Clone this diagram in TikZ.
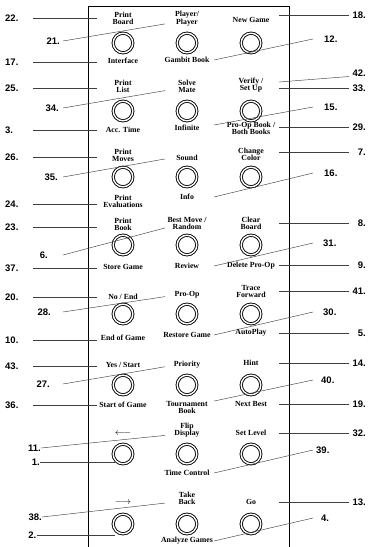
\documentclass[tikz,border=0pt]{standalone}
\usepackage{fontspec}
\setmainfont{Liberation Serif}
\newfontfamily\numfont{Liberation Sans}
\usetikzlibrary{calc}
\tikzset{
  btn/.style={circle,draw=black,line width=0.9pt,double,
    double distance=1.4pt,minimum size=19.6pt,inner sep=0pt},
  keylbl/.style={align=center,inner sep=0pt,
    font=\fontsize{7.8}{7.3}\selectfont\bfseries},
  callout/.style={inner sep=0pt,
    font=\numfont\fontsize{9.5}{9.5}\selectfont\bfseries},
  lead/.style={draw=black!75,line width=0.45pt},
  panel/.style={draw=black,line width=0.8pt},
}
\begin{document}
\begin{tikzpicture}[x=1pt,y=-1pt]
  \useasboundingbox (0,0) rectangle (372,547);

  % panel outline, open at the bottom
  \draw[panel] (88,547) -- (88,6) -- (289,6) -- (289,547);

  % keys
  \foreach \r/\y in {1/43,2/111,3/177,4/245,5/314,6/385,7/454,8/524}{
    \node[btn] (a\r) at (123,\y) {};
    \node[btn] (b\r) at (187,\y) {};
    \node[btn] (c\r) at (251,\y) {};
  }

  % key labels
  \node[keylbl] (a1t) at (123,18.5) {Print\\Board};
  \node[keylbl] (b1t) at (187,18.5) {Player/\\Player};
  \node[keylbl] (c1t) at (251,20)   {New Game};
  \node[keylbl] (a1b) at (123,61)   {Interface};
  \node[keylbl] (b1b) at (187,60)   {Gambit Book};

  \node[keylbl] (a2t) at (123,86)   {Print\\List};
  \node[keylbl] (b2t) at (187,86)   {Solve\\Mate};
  \node[keylbl] (c2t) at (251,85)   {Verify /\\Set Up};
  \node[keylbl] (a2b) at (123,130)  {Acc. Time};
  \node[keylbl] (b2b) at (187,128)  {Infinite};
  \node[keylbl] (c2b) at (251,128.5){Pro-Op Book /\\Both Books};

  \node[keylbl] (a3t) at (123,155.5){Print\\Moves};
  \node[keylbl] (b3t) at (187,158)  {Sound};
  \node[keylbl] (c3t) at (251,154.5){Change\\Color};
  \node[keylbl] (a3b) at (123,201.5){Print\\Evaluations};
  \node[keylbl] (b3b) at (187,197)  {Info};

  \node[keylbl] (a4t) at (123,224)  {Print\\Book};
  \node[keylbl] (b4t) at (187,223.5){Best Move /\\Random};
  \node[keylbl] (c4t) at (251,223)  {Clear\\Board};
  \node[keylbl] (a4b) at (123,267)  {Store Game};
  \node[keylbl] (b4b) at (187,266)  {Review};
  \node[keylbl] (c4b) at (251,266)  {Delete Pro-Op};

  \node[keylbl] (a5t) at (123,297)  {No / End};
  \node[keylbl] (b5t) at (187,295)  {Pro-Op};
  \node[keylbl] (c5t) at (251,291.5){Trace\\Forward};
  \node[keylbl] (a5b) at (123,338)  {End of Game};
  \node[keylbl] (b5b) at (187,335)  {Restore Game};
  \node[keylbl] (c5b) at (251,333)  {AutoPlay};

  \node[keylbl] (a6t) at (123,365)  {Yes / Start};
  \node[keylbl] (b6t) at (187,365)  {Priority};
  \node[keylbl] (c6t) at (251,363)  {Hint};
  \node[keylbl] (a6b) at (123,405)  {Start of Game};
  \node[keylbl] (b6b) at (187,407.5){Tournament\\Book};
  \node[keylbl] (c6b) at (251,404)  {Next Best};

  \node[keylbl,font=\fontsize{10}{10}\selectfont] (a7t) at (123,434) {$\longleftarrow$};
  \node[keylbl] (b7t) at (187,430)  {Flip\\Display};
  \node[keylbl] (c7t) at (251,433)  {Set Level};
  \node[keylbl] (b7b) at (187,473)  {Time Control};

  \node[keylbl,font=\fontsize{10}{10}\selectfont] (a8t) at (123,503) {$\longrightarrow$};
  \node[keylbl] (b8t) at (187,498.5){Take\\Back};
  \node[keylbl] (c8t) at (251,502)  {Go};
  \node[keylbl] (b8b) at (187,541)  {Analyze Games};

  % callout numbers
  \foreach \n/\y in {22/18,17/62,25/88,3/130,26/157,24/204,23/227,
                     37/268,20/297,10/340,43/366,36/405}
    \node[callout,anchor=west] (n\n) at (5,\y) {\n.};
  \foreach \n/\x/\y in {21/60/41,34/59/108,35/58/177,6/48/255,28/51/312,
                        27/50/384,11/41/448,1/40/462,38/42/517,2/36.5/535}
    \node[callout,anchor=east] (n\n) at (\x,\y) {\n.};
  \foreach \n/\y in {18/15,42/73,33/88,29/127,7/152,8/223,9/265,
                     41/291,5/333,14/363,19/404,32/433,13/502}
    \node[callout,anchor=east] (n\n) at (366,\y) {\n.};
  \foreach \n/\x/\y in {12/324/39,15/324/107,16/324/173,31/323/243,
                        30/323/312,40/321/380,39/316/450,4/321/518}
    \node[callout,anchor=west] (n\n) at (\x,\y) {\n.};

  % guide columns for the leader lines
  \coordinate (gl1) at (33,0);  \coordinate (gl2) at (97,0);
  \coordinate (gl3) at (63,0);  \coordinate (gl4) at (165,0);
  \coordinate (gb)  at (115,0);
  \coordinate (gr1) at (279,0); \coordinate (gr2) at (349,0);
  \coordinate (gr3) at (214,0); \coordinate (gr4) at (313,0);
  \coordinate (e42) at (279,82);

  % leader lines
  \foreach \n in {22,17,25,3,26,24,23,37,20,10,43,36}
    \draw[lead] (n\n -| gl1) -- (n\n -| gl2);
  \foreach \n/\tg in {21/b1t,34/b2t,35/b3t,6/b4t,28/b5t,27/b6t}
    \draw[lead] (n\n -| gl3) -- ($(gl4 |- \tg.south)+(0,-2)$);
  \draw[lead] (n11.east) -- ($(gl4 |- b7t.south)+(0,-2)$);
  \draw[lead] (n38.east) -- ($(gl4 |- b8t.south)+(0,-2)$);
  \draw[lead] (n1.east) -- (n1 -| gb);
  \draw[lead] (n2.east) -- (n2 -| gb);

  \foreach \n in {18,33,29,7,8,9,41,5,14,19,32,13}
    \draw[lead] (n\n -| gr1) -- (n\n -| gr2);
  \draw[lead] (e42) -- (gr2 |- n42.south);
  \foreach \n/\s in {12/b1b.center,15/b2b.north,16/b3b.center,
                     31/b4b.center,30/b5b.center,40/b6b.north,
                     39/b7b.center,4/b8b.center}
    \draw[lead] (gr3 |- \s) -- (gr4 |- n\n);

\end{tikzpicture}
\end{document}
